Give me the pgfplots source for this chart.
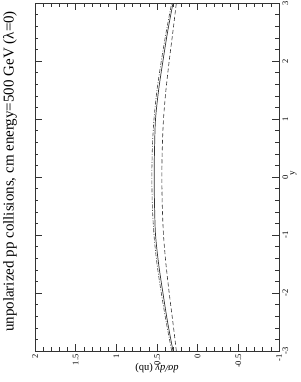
\documentclass[border=0pt]{standalone}
\usepackage{pgfplots}
\pgfplotsset{compat=1.18}
\usepackage{fontspec}
\setmainfont{Liberation Serif}
\begin{document}
\begin{tikzpicture}
\begin{axis}[
  scale only axis, width=244pt, height=348pt,
  at={(0,0)}, anchor=south west,
  x dir=reverse,
  xmin=-1, xmax=2, ymin=-3, ymax=3,
  xtick={-1,-0.5,0,0.5,1,1.5,2},
  ytick={-3,-2,-1,0,1,2,3},
  minor x tick num=4, minor y tick num=4,
  tick align=inside,
  major tick length=7pt, minor tick length=3.5pt,
  xticklabel pos=left, yticklabel pos=right,
  /pgf/number format/assume math mode=true,
  xticklabel style={rotate=90, anchor=east, font=\fontsize{8.5}{9}\selectfont},
  yticklabel style={rotate=90, anchor=north, font=\fontsize{8.5}{9}\selectfont},
  axis line style={black!80, line width=0.6pt},
  tick style={black!80, line width=0.5pt},
  xlabel={\textit{dσ/dy} (nb)},
  xlabel style={at={(axis description cs:0.5,-0.05)}, anchor=center, rotate=180, font=\fontsize{10.5}{11}\selectfont},
  ylabel={y},
  ylabel style={at={(axis description cs:1.06,0.511)}, anchor=center, font=\fontsize{9}{10}\selectfont},
  title={unpolarized pp collisions, cm energy=500 GeV (λ=0)},
  title style={at={(axis description cs:-0.1025,0.4986)}, anchor=center, rotate=90, font=\fontsize{15}{16}\selectfont},
]
\addplot[black!80, line width=0.7pt, smooth] coordinates {
(0.303,-3) (0.370,-2.5) (0.427,-2) (0.480,-1.5) (0.518,-1) (0.530,-0.5) (0.535,0)
(0.530,0.5) (0.518,1) (0.480,1.5) (0.427,2) (0.370,2.5) (0.303,3)};
\addplot[black!80, line width=0.6pt, smooth, dash pattern=on 4pt off 2.5pt] coordinates {
(0.262,-3) (0.305,-2.5) (0.350,-2) (0.390,-1.5) (0.420,-1) (0.435,-0.5) (0.440,0)
(0.435,0.5) (0.420,1) (0.390,1.5) (0.350,2) (0.305,2.5) (0.262,3)};
\addplot[black!75, line width=0.6pt, smooth, dash pattern=on 4pt off 1.5pt on 1pt off 1.5pt] coordinates {
(0.319,-3) (0.387,-2.5) (0.447,-2) (0.500,-1.5) (0.537,-1) (0.557,-0.5) (0.563,0)
(0.557,0.5) (0.537,1) (0.500,1.5) (0.447,2) (0.387,2.5) (0.319,3)};
\end{axis}
\pgfresetboundingbox
\path[use as bounding box] (-35pt,-31pt) rectangle (265pt,351pt);
\end{tikzpicture}
\end{document}
